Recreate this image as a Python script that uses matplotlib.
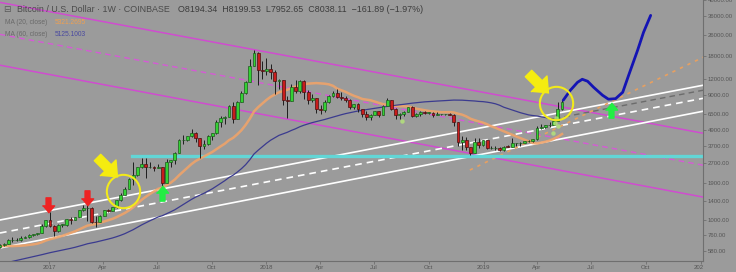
import numpy as np
import pandas as pd
import matplotlib
matplotlib.use('Agg')
import matplotlib.pyplot as plt
from matplotlib.transforms import Bbox, TransformedBbox

plt.rcParams['font.family'] = ['Liberation Sans', 'DejaVu Sans']

# weekly BTC/USD candles (Coinbase), week starting 2016-10-10
week_start = '2016-10-10'
first_open = 616
closes = [640, 657, 700, 703, 705, 730, 735, 768, 780, 790, 895, 1000,
          905, 820, 920, 920, 1010, 1000, 1050, 1180, 1230, 1240, 970, 965,
          1080, 1180, 1175, 1250, 1420, 1560, 1730, 2050, 2200, 2530, 2680, 2520,
          2550, 2500, 2560, 1920, 2750, 2870, 3250, 4080, 4090, 4350, 4600, 4200,
          3700, 3800, 4400, 4600, 5600, 6000, 6150, 7400, 5950, 8000, 9300, 11300,
          15000, 19000, 13900, 13800,
          14200, 13600, 11500, 11750, 8200, 8100, 10400, 9600, 11500, 9500, 8200, 8500,
          7000, 6900, 8000, 8800, 9400, 8700, 8500, 8250, 7350, 7650, 7100, 6450,
          6150, 6380, 6750, 6350, 7400, 8200, 7000, 6300, 6400, 6700, 7300, 6250,
          6500, 6700, 6600, 6600, 6300, 6400, 6400, 6450, 6350, 5600, 3950, 4100,
          3600, 3250, 3950, 3750, 4050,
          3550, 3550, 3550, 3420, 3640, 3630, 3850, 3850, 3900, 4000, 4000, 4150,
          5050, 5100, 5300, 5300, 5750, 7000, 8038]
highs = [650, 660, 720, 745, 725, 755, 748, 775, 782, 792, 930, 1000,
         1150, 910, 925, 930, 1020, 1060, 1055, 1200, 1290, 1330, 1260, 1070,
         1095, 1200, 1215, 1260, 1430, 1600, 1780, 2080, 2760, 2550, 2980, 2980,
         2780, 2600, 2660, 2560, 2900, 2880, 3290, 4180, 4480, 4400, 4980, 4720,
         4250, 4100, 4450, 4610, 5850, 6190, 6200, 7600, 7900, 8100, 9750, 11500,
         17000, 19900, 19200, 16500,
         17250, 15500, 14100, 11900, 11800, 8800, 11000, 11750, 11700, 11700, 9900, 9150,
         8500, 7500, 8250, 9000, 9750, 9950, 9500, 8850, 8450, 7700, 7800, 7000,
         6850, 6450, 6800, 6800, 7600, 8500, 8200, 7150, 6600, 6800, 7300, 7400,
         6600, 6800, 6800, 6650, 6700, 6700, 6500, 6500, 6550, 6400, 5600, 4400,
         4300, 3600, 4250, 4200, 4050,
         4100, 3700, 3650, 3600, 3700, 3720, 4200, 3900, 3950, 4000, 4100, 4150,
         5250, 5450, 5350, 5650, 5850, 7950, 8199]
lows = [615, 630, 650, 680, 690, 690, 725, 725, 750, 770, 790, 890,
        880, 750, 810, 880, 905, 930, 990, 1050, 1170, 975, 950, 890,
        960, 1070, 1150, 1170, 1240, 1400, 1540, 1720, 1850, 2150, 2480, 2100,
        2500, 2350, 2480, 1830, 1900, 2550, 2680, 3220, 3800, 3980, 4300, 3970,
        2980, 3500, 3750, 4100, 4550, 5100, 5400, 6100, 5500, 5900, 8000, 9200,
        11300, 15000, 10800, 12000,
        12750, 12000, 9200, 10000, 7600, 6000, 8100, 9300, 9400, 8400, 7700, 7900,
        6550, 6450, 6650, 7800, 8650, 8600, 8200, 7950, 7100, 7050, 6650, 6150,
        5800, 5800, 6300, 6100, 6300, 7400, 6900, 5900, 5900, 6250, 6650, 6100,
        6150, 6200, 6500, 6500, 6150, 6300, 6350, 6300, 6300, 5200, 3700, 3450,
        3450, 3130, 3250, 3550, 3650,
        3500, 3500, 3450, 3380, 3380, 3580, 3600, 3700, 3700, 3850, 3950, 3930,
        4100, 4950, 5050, 5150, 5300, 5700, 6950]
# weekly closes before the visible range, only feed the moving averages
pre_closes = [230, 230, 240, 230, 232, 235, 240, 245, 262, 283, 325, 385, 330, 325,
              360, 390, 435, 455, 420, 430, 450, 385, 380, 375, 375, 400, 435, 430,
              410, 415, 410, 415, 420, 420, 425, 455, 460, 460, 455, 445, 530, 575,
              670, 765, 665, 675, 660, 665, 655, 625, 585, 570, 580, 575, 605, 605,
              610, 600, 615, 615]

# drawn trend lines (start / end of each)
line_dates = ['2016-10-10', '2020-01-05']
magenta_upper = [46000, 4600]
magenta_mid = [26200, 2620]
magenta_lower = [15230, 1495]
white_upper = [998, 10700]
white_mid = [794, 8500]
white_lower = [610, 6770]
gray_dates = ['2019-05-01', '2020-01-05']
gray_dashed = [5950, 9800]
orange_dates = ['2018-12-09', '2020-01-05']
orange_dotted = [2405, 17500]
cyan_dates = ['2017-05-20', '2020-01-05']
cyan_level = 3070

# hand drawn projection
proj_dates = ['2019-05-15', '2019-05-27', '2019-06-08', '2019-06-16', '2019-06-25',
              '2019-07-05', '2019-07-20', '2019-07-30', '2019-08-11', '2019-08-23',
              '2019-09-02', '2019-09-17', '2019-09-27', '2019-10-09']
proj_prices = [8220, 9800, 11270, 11890, 11480, 10330, 8980, 8370, 8450, 9460,
               12760, 19800, 27170, 36600]

# markers
red_dates = ['2016-12-30', '2017-03-05']
red_prices = [1310, 1483]
green_dates = ['2017-07-09', '2019-08-03']
green_prices = [1603, 6890]
yellow_arrow_dates = ['2017-04-08', '2019-04-03']
yellow_arrow_prices = [2535, 11060]
circle_dates = ['2017-05-05', '2019-05-03']
circle_prices = [1650, 7800]
dot_dates = ['2018-08-17', '2019-04-28', '2019-05-03', '2019-05-07', '2019-05-01']
dot_prices = [5690, 4600, 6000, 5210, 5500]

yticks = [580, 760, 1000, 1400, 1900, 2700, 3700, 4900, 6500, 9000, 12000,
          18000, 26000, 36000, 48000]
xtick_dates = ['2017-01-01', '2017-04-01', '2017-07-01', '2017-10-01',
               '2018-01-01', '2018-04-01', '2018-07-01', '2018-10-01',
               '2019-01-01', '2019-04-01', '2019-07-01', '2019-10-01', '2020-01-01']
xtick_labels = ['2017', 'Apr', 'Jul', 'Oct', '2018', 'Apr', 'Jul', 'Oct',
                '2019', 'Apr', 'Jul', 'Oct', '2020']

BG = '#9b9b9b'
dates = pd.date_range(week_start, periods=len(closes), freq='7D')
opens = [first_open] + closes[:-1]
all_closes = pd.Series(pre_closes + closes, dtype=float)
ma20 = all_closes.rolling(20).mean().values[-len(closes):]
ma60 = all_closes.rolling(60).mean().values[-len(closes):]

fig = plt.figure(figsize=(7.36, 2.72), dpi=100, facecolor=BG)
ax = fig.add_axes([0, 11 / 272, 703 / 736, 261 / 272], facecolor=BG)
ax.set_yscale('log')
ax.set_ylim(485, 47700)
ax.set_xlim(pd.Timestamp('2016-10-10'), pd.Timestamp('2020-01-05'))

D = lambda s: pd.to_datetime(s)

# channels
ax.plot(D(line_dates), magenta_upper, color='#d04cd0', lw=1.1, zorder=2)
ax.plot(D(line_dates), magenta_mid, color='#d65ad6', lw=1.0, ls=(0, (4, 3)), zorder=2)
ax.plot(D(line_dates), magenta_lower, color='#d04cd0', lw=1.1, zorder=2)
ax.plot(D(line_dates), white_upper, color='white', lw=1.2, zorder=2)
ax.plot(D(line_dates), white_mid, color='white', lw=1.2, ls=(0, (4, 3)), zorder=2)
ax.plot(D(line_dates), white_lower, color='white', lw=1.2, zorder=2)
ax.plot(D(gray_dates), gray_dashed, color='#6c6c6c', lw=1.0, ls=(0, (4, 3)), zorder=2)
ax.plot(D(orange_dates), orange_dotted, color='#e8a060', lw=1.2, ls=(0, (2, 3)), zorder=2)
ax.plot(D(cyan_dates), [cyan_level, cyan_level], color='#62d6d6', lw=2.4, zorder=2)

# moving averages
ax.plot(dates, ma20, color='#efa36a', lw=1.8, alpha=0.9, zorder=3)
ax.plot(dates, ma60, color='#3b3b8f', lw=0.9, zorder=3)

# candles
o = np.array(opens, float)
c = np.array(closes, float)
up = c >= o
ax.vlines(dates, lows, highs, color='#1e1e1e', lw=0.7, zorder=4)
bottoms = np.minimum(o, c)
heights = np.maximum(np.abs(c - o), bottoms * 0.006)
ax.bar(dates[up], heights[up], bottom=bottoms[up], width=4.8,
       color='#34d134', edgecolor='#1d5a1d', lw=0.5, zorder=5)
ax.bar(dates[~up], heights[~up], bottom=bottoms[~up], width=4.8,
       color='#c81c1c', edgecolor='#4a1010', lw=0.5, zorder=5)

ax.plot(D(dot_dates), dot_prices, ls='none', marker='o', ms=3.2, color='#b4e27a',
        alpha=0.85, mew=0, zorder=6)

# projection
ax.plot(D(proj_dates), proj_prices, color='#1414b4', lw=2, solid_capstyle='round', zorder=6)

# annotations
down_arrow = [(0, -1), (0.8, -0.05), (0.32, -0.05), (0.32, 1), (-0.32, 1),
              (-0.32, -0.05), (-0.8, -0.05)]
up_arrow = [(x, -y) for x, y in down_arrow]
ang = np.deg2rad(45)
diag_arrow = [(x * np.cos(ang) - y * np.sin(ang), x * np.sin(ang) + y * np.cos(ang))
              for x, y in down_arrow]
ax.plot(D(red_dates), red_prices, ls='none', marker=down_arrow, ms=11,
        color='#ee2222', mec='#ee2222', zorder=7)
ax.plot(D(green_dates), green_prices, ls='none', marker=up_arrow, ms=11,
        color='#22ee44', mec='#22ee44', zorder=7)
ax.plot(D(yellow_arrow_dates), yellow_arrow_prices, ls='none', marker=diag_arrow, ms=19,
        color='#f5ec10', mec='#f5ec10', zorder=7)
ax.plot(D(circle_dates), circle_prices, ls='none', marker='o', ms=24, mfc='none',
        mec='#f2ea1a', mew=1.5, zorder=7)

# axes styling
for s in ['top', 'left']:
    ax.spines[s].set_visible(False)
for s in ['right', 'bottom']:
    ax.spines[s].set_color('#6f6f6f')
    ax.spines[s].set_linewidth(0.8)
ax.yaxis.tick_right()
ax.yaxis.set_minor_locator(matplotlib.ticker.NullLocator())
ax.set_yticks(yticks)
ax.set_yticklabels(['%.2f' % v for v in yticks])
ax.set_xticks(D(xtick_dates))
ax.set_xticklabels(xtick_labels)
ax.tick_params(axis='both', labelsize=4.3, colors='#6f6f6f', labelcolor='#555555',
               length=2, width=0.6, pad=1.5)
ax.tick_params(axis='x', pad=1.2)
clip = TransformedBbox(Bbox([[0, 0], [703 / 736, 1]]), fig.transFigure)
for lbl in ax.get_xticklabels():
    lbl.set_clip_box(clip)
    lbl.set_clip_on(True)

# header
fig.text(3 / 736, 1 - 10 / 272, '\u229f', fontsize=6.5, color='#5a5a5a', va='center',
         family=['DejaVu Sans'])
fig.text(17 / 736, 1 - 10 / 272, 'Bitcoin / U.S. Dollar \u00b7 1W \u00b7 COINBASE',
         fontsize=6.4, color='#4a4a4a', va='center')
fig.text(178 / 736, 1 - 10 / 272,
         'O8194.34  H8199.53  L7952.65  C8038.11  \u2212161.89 (\u22121.97%)',
         fontsize=6.4, color='#3c3c3c', va='center')
fig.text(5 / 736, 1 - 22 / 272, 'MA (20, close)', fontsize=4.8, color='#6a6a6a', va='center')
fig.text(55 / 736, 1 - 22 / 272, '5321.2695', fontsize=4.8, color='#f0a050', va='center')
fig.text(5 / 736, 1 - 35 / 272, 'MA (60, close)', fontsize=4.8, color='#6a6a6a', va='center')
fig.text(55 / 736, 1 - 35 / 272, '5125.1003', fontsize=4.8, color='#4a4aa0', va='center')

fig.savefig('out.png', dpi=100, facecolor=BG)
